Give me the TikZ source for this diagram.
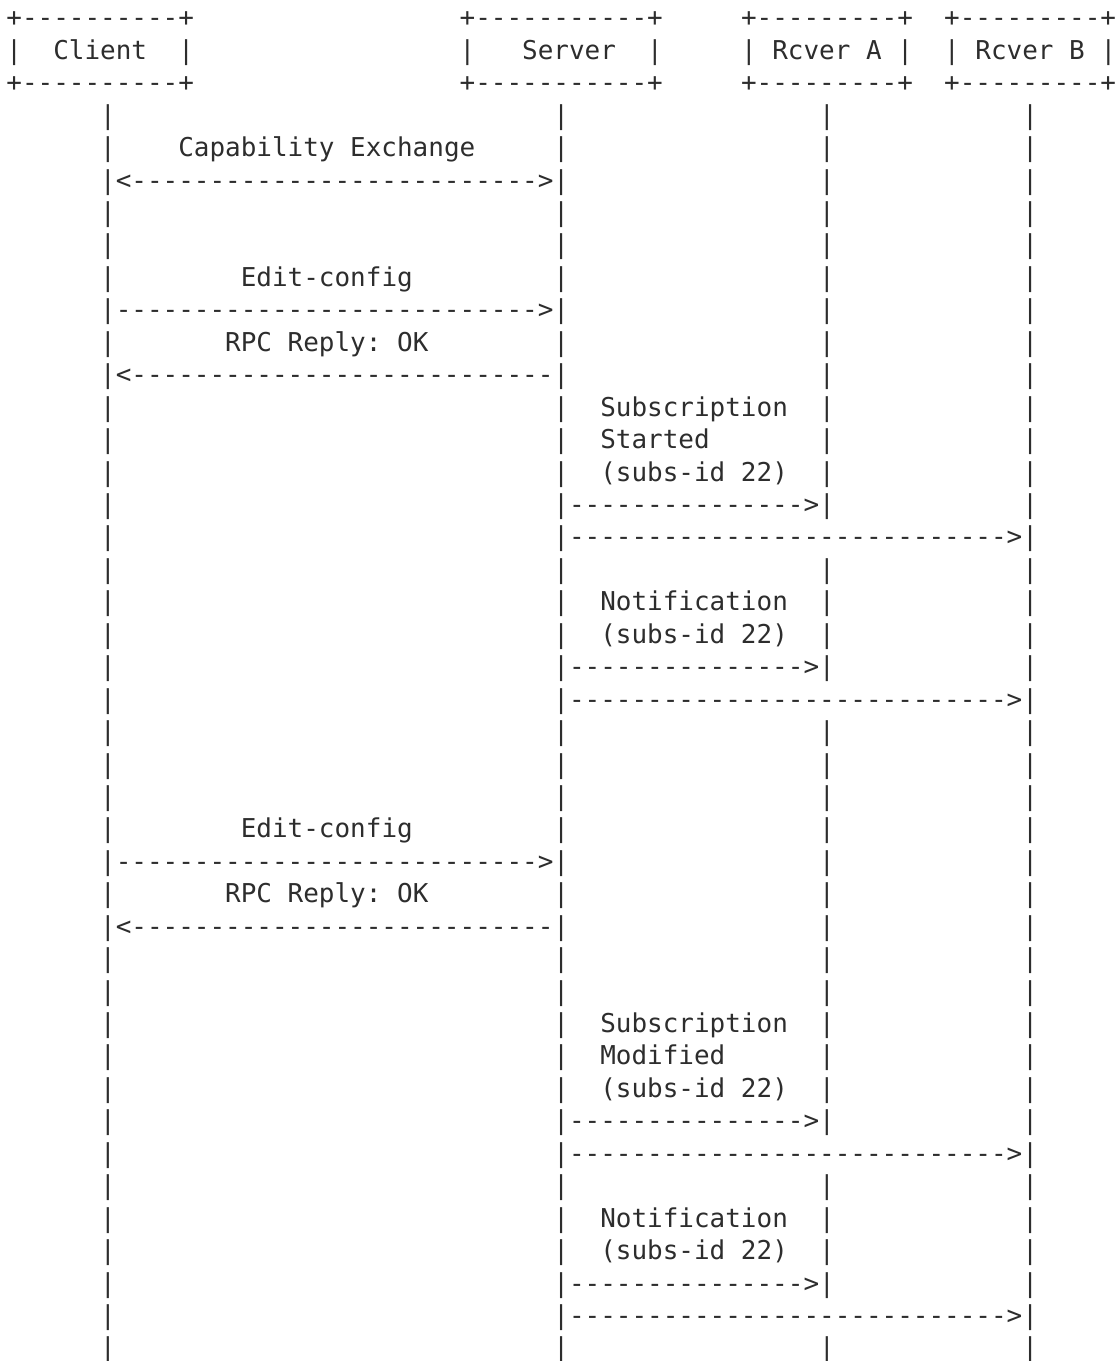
\documentclass[tikz,border=0pt]{standalone}
\usepackage{fontspec}
\setmonofont{DejaVu Sans Mono}
\definecolor{ink}{RGB}{45,45,45}
\ExplSyntaxOn
\cs_new:Npn \dsh #1 {\prg_replicate:nn{#1}{-}}
\ExplSyntaxOff
\tikzset{
  asc/.style={anchor=base west, inner sep=0pt, outer sep=0pt, text=ink,
    font=\ttfamily\fontsize{25.96}{32.44}\selectfont},
}
% column c, row r  ->  position
\newcommand\gp[2]{({6.4+15.63*(#2)},{26.9+32.44*((#1)-1)})}
\newcommand\seg[4]{\node[asc] (#1) at \gp{#2}{#3} {#4};}
\begin{document}
\begin{tikzpicture}[x=1pt,y=-1pt]
\useasboundingbox (0,0) rectangle (1116,1361);
% header boxes
\seg{clientTop}{1}{0}{+\dsh{10}+}
\seg{serverTop}{1}{29}{+\dsh{11}+}
\seg{rcvATop}{1}{47}{+\dsh{9}+}
\seg{rcvBTop}{1}{60}{+\dsh{9}+}
\seg{clientL}{2}{0}{|}
\seg{client}{2}{3}{Client}
\seg{clientR}{2}{11}{|}
\seg{serverL}{2}{29}{|}
\seg{server}{2}{33}{Server}
\seg{serverR}{2}{41}{|}
\seg{rcvAL}{2}{47}{|}
\seg{rcvA}{2}{49}{Rcver A}
\seg{rcvAR}{2}{57}{|}
\seg{rcvBL}{2}{60}{|}
\seg{rcvB}{2}{62}{Rcver B}
\seg{rcvBR}{2}{70}{|}
\seg{clientBot}{3}{0}{+\dsh{10}+}
\seg{serverBot}{3}{29}{+\dsh{11}+}
\seg{rcvABot}{3}{47}{+\dsh{9}+}
\seg{rcvBBot}{3}{60}{+\dsh{9}+}
% lifelines
\foreach \r in {4,...,42}{
  \foreach \c in {6,35,65}{
    \node[asc] (bar\c-\r) at \gp{\r}{\c} {|};
  }
}
\foreach \r in {4,5,6,7,8,9,10,11,12,13,14,15,16,18,19,20,21,23,24,25,26,27,28,29,30,31,32,33,34,35,37,38,39,40,42}{
  \node[asc] (bar52-\r) at \gp{\r}{52} {|};
}
% messages client <-> server
\seg{capLabel}{5}{11}{Capability Exchange}
\seg{capArrow}{6}{7}{<\dsh{26}>}
\seg{editLabelA}{9}{15}{Edit-config}
\seg{editArrowA}{10}{7}{\dsh{27}>}
\seg{okLabelA}{11}{14}{RPC Reply: OK}
\seg{okArrowA}{12}{7}{<\dsh{27}}
% subscription started
\seg{subLabelA}{13}{38}{Subscription}
\seg{startedLabel}{14}{38}{Started}
\seg{idLabelA}{15}{38}{(subs-id 22)}
\seg{subToA1}{16}{36}{\dsh{15}>}
\seg{subToB1}{17}{36}{\dsh{28}>}
% notification 1
\seg{notifLabelA}{19}{38}{Notification}
\seg{idLabelB}{20}{38}{(subs-id 22)}
\seg{notToA1}{21}{36}{\dsh{15}>}
\seg{notToB1}{22}{36}{\dsh{28}>}
% second edit-config
\seg{editLabelB}{26}{15}{Edit-config}
\seg{editArrowB}{27}{7}{\dsh{27}>}
\seg{okLabelB}{28}{14}{RPC Reply: OK}
\seg{okArrowB}{29}{7}{<\dsh{27}}
% subscription modified
\seg{subLabelB}{32}{38}{Subscription}
\seg{modifiedLabel}{33}{38}{Modified}
\seg{idLabelC}{34}{38}{(subs-id 22)}
\seg{subToA2}{35}{36}{\dsh{15}>}
\seg{subToB2}{36}{36}{\dsh{28}>}
% notification 2
\seg{notifLabelB}{38}{38}{Notification}
\seg{idLabelD}{39}{38}{(subs-id 22)}
\seg{notToA2}{40}{36}{\dsh{15}>}
\seg{notToB2}{41}{36}{\dsh{28}>}
\end{tikzpicture}
\end{document}
